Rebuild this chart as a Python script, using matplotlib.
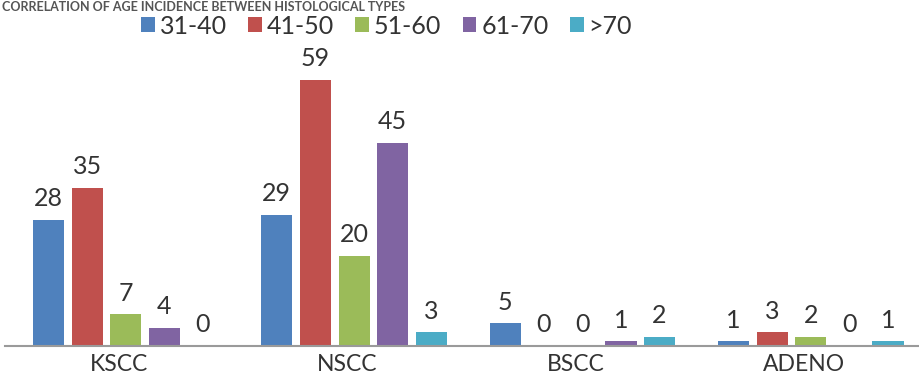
import numpy as np
import matplotlib
matplotlib.use("Agg")
import matplotlib.pyplot as plt

plt.rcParams['font.family'] = ['Lato', 'DejaVu Sans']

# data
categories = ["KSCC", "NSCC", "BSCC", "ADENO"]
age_groups = ["31-40", "41-50", "51-60", "61-70", ">70"]
age_31_40 = [28, 29, 5, 1]
age_41_50 = [35, 59, 0, 3]
age_51_60 = [7, 20, 0, 2]
age_61_70 = [4, 45, 1, 0]
age_over_70 = [0, 3, 2, 1]
series = [age_31_40, age_41_50, age_51_60, age_61_70, age_over_70]
colors = ["#4F81BD", "#C0504D", "#9BBB59", "#8064A2", "#4BACC6"]
title = "CORRELATION OF AGE INCIDENCE BETWEEN HISTOLOGICAL TYPES"

fig = plt.figure(figsize=(9.2, 3.74), dpi=100)
ax = fig.add_axes([0.005, 0.0749, 0.993, 0.7647])

x = np.arange(len(categories))
step = 0.169
width = 0.136
shift = 0.03
handles = []
for i, vals in enumerate(series):
    pos = x + (i - 2) * step + shift
    b = ax.bar(pos, vals, width, color=colors[i], label=age_groups[i])
    handles.append(b)
    for p, v in zip(pos, vals):
        ax.annotate(str(v), (p, v), xytext=(0, 10), textcoords="offset points",
                    ha="center", va="baseline", fontsize=18, color="#333333")

ax.set_xlim(-0.5, 3.5)
ax.set_ylim(0, 63.5)
ax.set_xticks(x)
ax.set_xticklabels(categories, fontsize=16.5, color="#333333")
ax.tick_params(axis="x", length=0, pad=5.5)
ax.set_yticks([])
for s in ["top", "right", "left"]:
    ax.spines[s].set_visible(False)
ax.spines["bottom"].set_color("#9a9a9a")
ax.spines["bottom"].set_linewidth(1.5)

fig.legend(handles=handles, labels=age_groups, loc="center", bbox_to_anchor=(0.42, 0.930),
           ncol=5, frameon=False, fontsize=18, handlelength=0.55, handleheight=0.55,
           handletextpad=0.2, columnspacing=0.85, labelcolor="#333333", borderpad=0)

# title (cut off at the top edge in the reference), kept small so it stays in view
fig.text(0.002, 0.998, title, ha="left", va="top", fontsize=9, fontweight="bold",
         color="#555555")

fig.savefig("out.png", dpi=100)
